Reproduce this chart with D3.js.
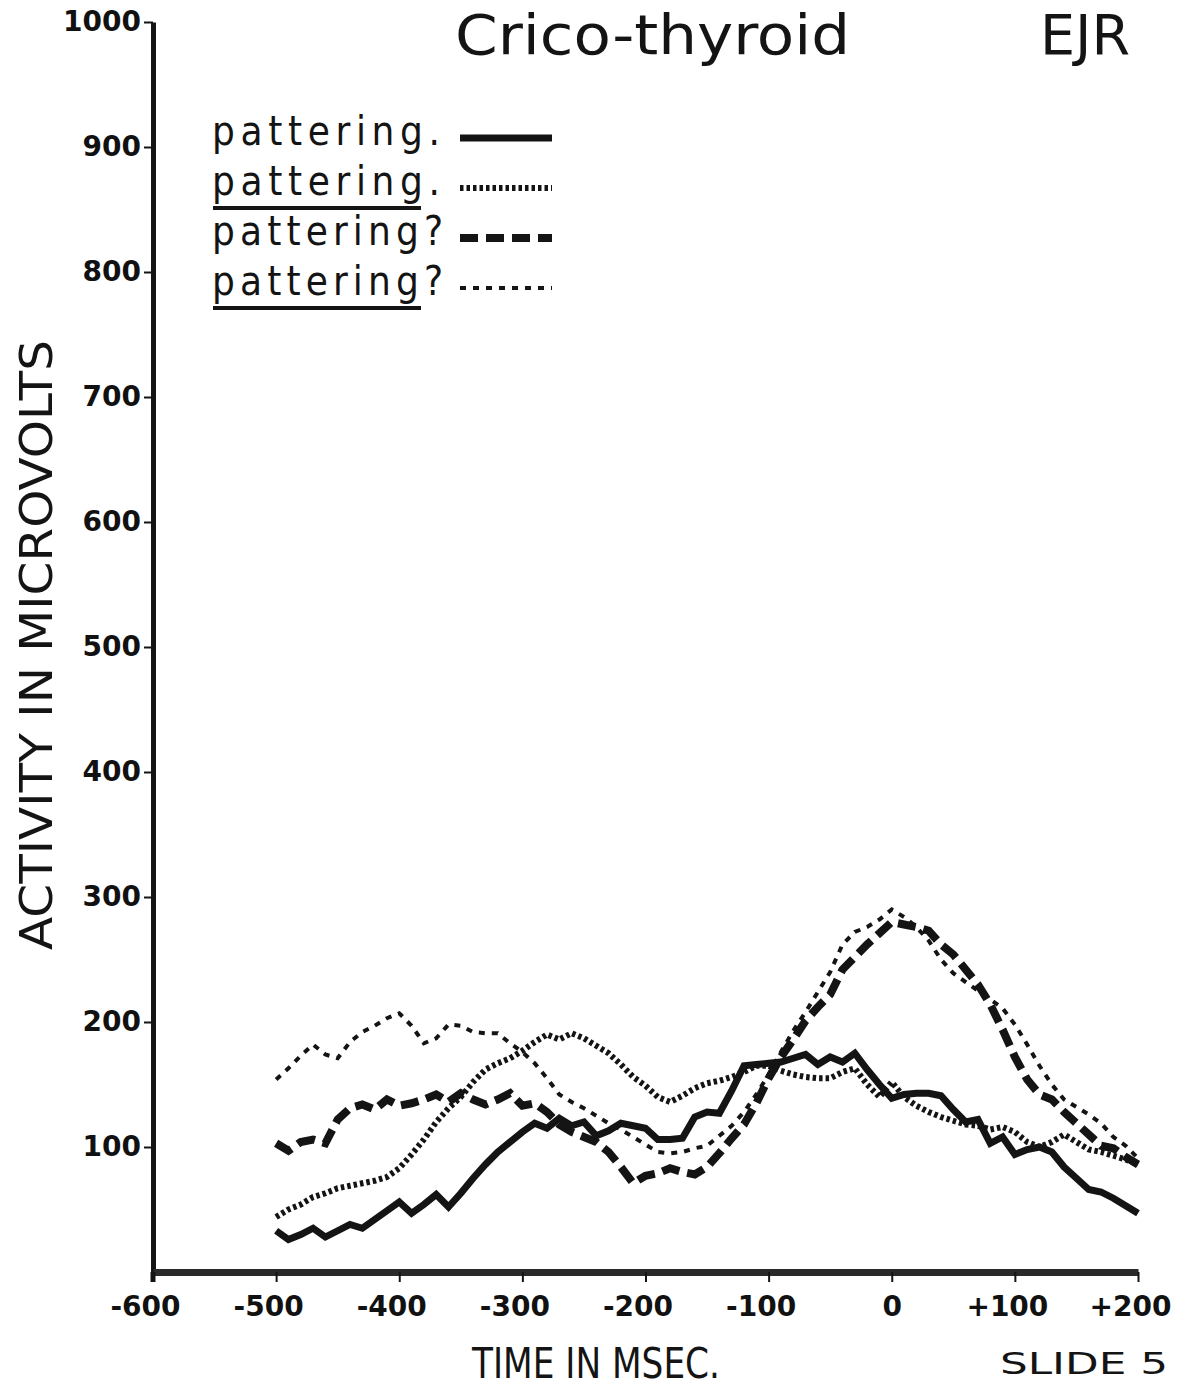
<!DOCTYPE html>
<html>
<head>
<meta charset="utf-8">
<script src="https://cdn.jsdelivr.net/npm/d3@7"></script>
<style>
  html, body { margin: 0; padding: 0; background: #fff; }
  svg { display: block; }
  .cond { font-family: "Liberation Sans Narrow", "DejaVu Sans Condensed", "Liberation Sans", sans-serif; }
  .tick text { font-family: "DejaVu Sans", sans-serif; font-weight: bold; font-size: 28px; fill: #111; }
</style>
</head>
<body>
<svg id="chart" width="1180" height="1389"></svg>
<script>
// sampling times (msec)
const times = [-500, -490, -480, -470, -460, -450, -440, -430, -420, -410,
  -400, -390, -380, -370, -360, -350, -340, -330, -320, -310,
  -300, -290, -280, -270, -260, -250, -240, -230, -220, -210,
  -200, -190, -180, -170, -160, -150, -140, -130, -120, -110,
  -100, -90, -80, -70, -60, -50, -40, -30, -20, -10,
  0, 10, 20, 30, 40, 50, 60, 70, 80, 90,
  100, 110, 120, 130, 140, 150, 160, 170, 180, 190, 200];

// microvolts
const solidVals = [33, 26, 30, 35, 28, 33, 38, 35, 42, 49,
  56, 47, 54, 62, 52, 63, 75, 86, 96, 104,
  112, 119, 115, 123, 117, 120, 109, 113, 119, 117,
  115, 106, 106, 107, 124, 128, 127, 145, 165, 166,
  167, 168, 171, 174, 166, 172, 168, 175, 162, 150,
  139, 142, 143, 143, 141, 130, 120, 122, 103, 108,
  94, 98, 100, 96, 84, 75, 66, 64, 59, 53, 47];

const dottedVals = [44, 50, 54, 60, 63, 67, 69, 71, 73, 76,
  83, 94, 106, 120, 131, 140, 152, 162, 167, 171,
  177, 184, 190, 186, 191, 187, 181, 175, 166, 156,
  149, 140, 136, 141, 147, 151, 153, 156, 160, 165,
  165, 161, 158, 156, 155, 155, 160, 163, 150, 140,
  152, 140, 133, 128, 124, 121, 118, 117, 114, 116,
  112, 104, 100, 104, 110, 104, 98, 96, 93, 90, 86];

const dashedVals = [103, 97, 104, 106, 103, 122, 131, 134, 130, 138,
  133, 135, 138, 142, 136, 143, 138, 134, 138, 143,
  133, 135, 128, 118, 112, 108, 104, 96, 84, 71,
  77, 79, 83, 80, 78, 84, 95, 107, 118, 135,
  155, 172, 186, 201, 212, 222, 242, 252, 262, 271,
  280, 278, 276, 273, 262, 254, 242, 230, 214, 194,
  172, 154, 142, 138, 128, 119, 110, 101, 99, 92, 86];

const shortDashVals = [154, 163, 173, 182, 174, 171, 184, 192, 197, 203,
  207, 197, 183, 187, 198, 197, 192, 191, 191, 183,
  176, 167, 155, 142, 136, 131, 125, 119, 114, 108,
  102, 96, 95, 96, 99, 101, 109, 117, 128, 142,
  158, 176, 193, 208, 224, 240, 262, 272, 276, 282,
  290, 284, 276, 265, 250, 239, 232, 225, 218, 211,
  198, 182, 165, 150, 138, 132, 126, 119, 108, 101, 91];

const seriesLabels = ["pattering.", "pattering.", "pattering?", "pattering?"];
const labelUnderlined = [false, true, false, true];
const xTicks = [-600, -500, -400, -300, -200, -100, 0, 100, 200];
const yTicks = [100, 200, 300, 400, 500, 600, 700, 800, 900, 1000];

const svg = d3.select("#chart");
const ink = "#141414";

const x = d3.scaleLinear().domain([-600, 200]).range([153, 1138]);
const y = d3.scaleLinear().domain([0, 1000]).range([1272, 22]);

// line styles for the four traces
const styles = [
  { width: 7, dash: null },
  { width: 6, dash: "3.5,3" },
  { width: 8, dash: "18,8" },
  { width: 4, dash: "6,7" }
];
const series = [solidVals, dottedVals, dashedVals, shortDashVals];

// title (sits right at the top edge of the slide)
svg.append("text").attr("class", "cond")
  .attr("x", 455).attr("y", 54)
  .attr("font-size", 56).attr("fill", ink)
  .attr("textLength", 395).attr("lengthAdjust", "spacingAndGlyphs")
  .text("Crico-thyroid");
svg.append("text").attr("class", "cond")
  .attr("x", 1040).attr("y", 54)
  .attr("font-size", 56).attr("fill", ink)
  .attr("textLength", 90).attr("lengthAdjust", "spacingAndGlyphs")
  .text("EJR");

// axes
const yAxis = svg.append("g")
  .attr("transform", `translate(${x(-600)},0)`)
  .call(d3.axisLeft(y).tickValues(yTicks).tickSize(9).tickSizeOuter(0).tickPadding(3)
    .tickFormat(d3.format("d")));
yAxis.select(".domain").attr("stroke", ink).attr("stroke-width", 5);
yAxis.selectAll(".tick line").attr("stroke", ink).attr("stroke-width", 2);

const xAxis = svg.append("g")
  .attr("transform", `translate(0,${y(0)})`)
  .call(d3.axisBottom(x).tickValues(xTicks).tickSize(10).tickSizeOuter(0).tickPadding(14)
    .tickFormat(d => d === 0 ? "0" : (d > 0 ? "+" : "-") + Math.abs(d)));
xAxis.select(".domain").attr("stroke", "#2a2a2a").attr("stroke-width", 7);
xAxis.selectAll(".tick line").attr("stroke", ink).attr("stroke-width", 2);
xAxis.selectAll(".tick text").attr("dx", d => d === 0 ? 0 : -8);

// extend vertical axis a little below the baseline like the slide
svg.append("line")
  .attr("x1", x(-600)).attr("x2", x(-600))
  .attr("y1", y(0)).attr("y2", y(0) + 10)
  .attr("stroke", ink).attr("stroke-width", 5);

// axis titles
svg.append("text").attr("class", "cond")
  .attr("transform", "translate(52,645) rotate(-90)")
  .attr("text-anchor", "middle")
  .attr("font-size", 44).attr("fill", ink)
  .attr("textLength", 610).attr("lengthAdjust", "spacingAndGlyphs")
  .text("ACTIVITY IN MICROVOLTS");
svg.append("text").attr("class", "cond")
  .attr("x", 472).attr("y", 1378)
  .attr("font-size", 42).attr("fill", ink)
  .attr("textLength", 248).attr("lengthAdjust", "spacingAndGlyphs")
  .text("TIME IN MSEC.");
svg.append("text").attr("class", "cond")
  .attr("x", 1000).attr("y", 1374)
  .attr("font-size", 31).attr("fill", ink)
  .attr("textLength", 168).attr("lengthAdjust", "spacingAndGlyphs")
  .text("SLIDE 5");

// traces
const lineGen = d3.line()
  .x((d, i) => x(times[i]))
  .y(d => y(d));

[3, 2, 1, 0].forEach(k => {
  svg.append("path")
    .attr("d", lineGen(series[k]))
    .attr("fill", "none")
    .attr("stroke", ink)
    .attr("stroke-width", styles[k].width)
    .attr("stroke-dasharray", styles[k].dash)
    .attr("stroke-linejoin", "miter");
});

// legend
const legendBase = [145, 195, 245, 295];
seriesLabels.forEach((lab, i) => {
  svg.append("text").attr("class", "cond")
    .attr("x", 212).attr("y", legendBase[i])
    .attr("font-size", 40).attr("fill", ink)
    .attr("textLength", i < 2 ? 228 : 231).attr("lengthAdjust", "spacing")
    .text(lab);
  if (labelUnderlined[i]) {
    svg.append("line")
      .attr("x1", 213).attr("x2", 421)
      .attr("y1", legendBase[i] + 13).attr("y2", legendBase[i] + 13)
      .attr("stroke", ink).attr("stroke-width", 4);
  }
  svg.append("line")
    .attr("x1", 460).attr("x2", 552)
    .attr("y1", legendBase[i] - 7).attr("y2", legendBase[i] - 7)
    .attr("stroke", ink)
    .attr("stroke-width", styles[i].width)
    .attr("stroke-dasharray", styles[i].dash);
});
</script>
</body>
</html>
